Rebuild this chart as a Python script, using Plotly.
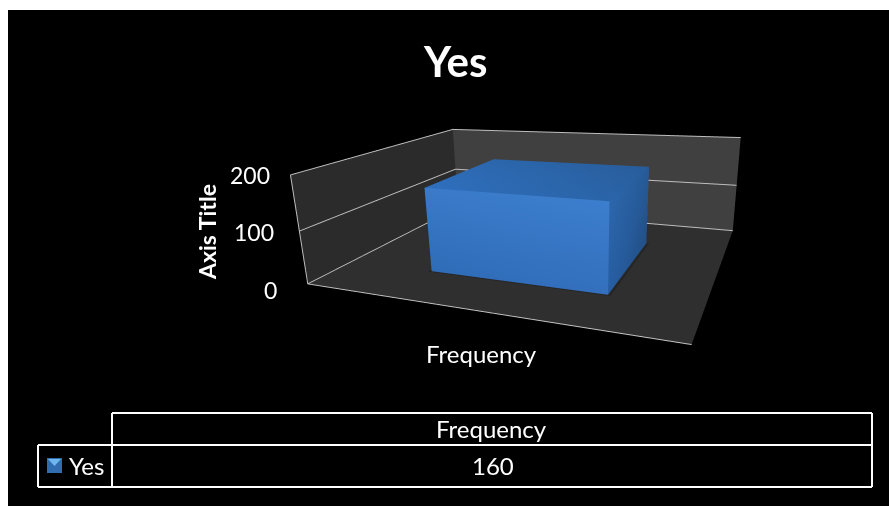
import plotly.graph_objects as go

# Chart data
series_name = "Yes"
categories = ["Frequency"]
frequency = [160]
value_ticks = [0, 100, 200]
chart_title = "Yes"
value_axis_title = "Axis Title"

W, H = 889, 506
FONT = "Lato"

# Column footprint inside the unit floor of the plot box
col_x = (0.269, 0.771)
col_y = (0.231, 0.738)
col_top = frequency[0]

faces = [
    # front: brightest through the middle, a little deeper along the bottom
    ([(col_x[0], col_y[0], 0), (col_x[1], col_y[0], 0), (col_x[1], col_y[0], col_top), (col_x[0], col_y[0], col_top)],
     ["#2f6cb8", "#336fbc", "#3c7ecd", "#3a7ac8"]),
    # right side
    ([(col_x[1], col_y[0], 0), (col_x[1], col_y[1], 0), (col_x[1], col_y[1], col_top), (col_x[1], col_y[0], col_top)],
     ["#275ea3", "#234f85", "#265a96", "#2c66ab"]),
    # top
    ([(col_x[0], col_y[0], col_top), (col_x[1], col_y[0], col_top), (col_x[1], col_y[1], col_top), (col_x[0], col_y[1], col_top)],
     ["#2f6fbd", "#2a64a8", "#285d9b", "#2b66ac"]),
    # left and back, out of sight from this camera
    ([(col_x[0], col_y[1], 0), (col_x[0], col_y[0], 0), (col_x[0], col_y[0], col_top), (col_x[0], col_y[1], col_top)],
     ["#2f6cb8"] * 4),
    ([(col_x[1], col_y[1], 0), (col_x[0], col_y[1], 0), (col_x[0], col_y[1], col_top), (col_x[1], col_y[1], col_top)],
     ["#2f6cb8"] * 4),
]

vx, vy, vz, vc, ti, tj, tk = [], [], [], [], [], [], []
for corners, colors in faces:
    n = len(vx)
    for (cx, cy, cz), c in zip(corners, colors):
        vx.append(cx)
        vy.append(cy)
        vz.append(cz)
        vc.append(c)
    ti += [n, n]
    tj += [n + 1, n + 2]
    tk += [n + 2, n + 3]

flat_light = dict(ambient=1, diffuse=0, specular=0, fresnel=0, roughness=1)
column = go.Mesh3d(
    x=vx, y=vy, z=vz, i=ti, j=tj, k=tk, vertexcolor=vc, name=series_name,
    flatshading=True, showscale=False, hoverinfo="skip", lighting=flat_light,
)

# Soft contact shadow on the floor around the column's foot
shadow_spread = 0.008
shadow = go.Mesh3d(
    x=[col_x[0] - shadow_spread, col_x[1] + shadow_spread, col_x[1] + shadow_spread, col_x[0] - shadow_spread],
    y=[col_y[0] - shadow_spread, col_y[0] - shadow_spread, col_y[1] + shadow_spread, col_y[1] + shadow_spread],
    z=[0.5, 0.5, 0.5, 0.5], i=[0, 0], j=[1, 2], k=[2, 3], color="#262626",
    flatshading=True, showscale=False, hoverinfo="skip", lighting=flat_light,
)

# Tick labels step outward along the leaning value axis
tick_offsets = {0: (-29, -6), 100: (-23, -1), 200: (-18, 0)}


def tick_note(v):
    return dict(x=0, y=0, z=v, text=str(v), showarrow=False, xanchor="right", yanchor="middle",
                xshift=tick_offsets[v][0], yshift=tick_offsets[v][1],
                font=dict(family=FONT, size=23, color="white"))


scene = dict(
    domain=dict(x=[0.1699, 1], y=[0, 1]),
    dragmode="orbit",
    aspectmode="manual",
    aspectratio=dict(x=1, y=0.821, z=0.295),
    camera=dict(
        eye=dict(x=0.645, y=-1.56, z=0.447),
        center=dict(x=-0.043, y=-0.04, z=-0.133),
        up=dict(x=0.036, y=0, z=1),
        projection=dict(type="perspective"),
    ),
    xaxis=dict(range=[0, 1], title=dict(text=""), tickvals=[], showgrid=False, zeroline=False,
               showbackground=True, backgroundcolor="#2b2b2b", showline=True, linecolor="#c4c4c4",
               linewidth=2, showspikes=False, ticks=""),
    yaxis=dict(range=[0, 1], title=dict(text=""), tickvals=[], showgrid=False, zeroline=False,
               showbackground=True, backgroundcolor="#404040", showline=False,
               showspikes=False, ticks=""),
    zaxis=dict(range=[0, 200], title=dict(text=""), tickvals=value_ticks, showticklabels=False,
               showgrid=True, gridcolor="#bdbdbd", gridwidth=2, zeroline=False,
               showbackground=True, backgroundcolor="#2f2f2f", showline=True, linecolor="#bdbdbd",
               linewidth=2, showspikes=False, ticks=""),
    annotations=[tick_note(v) for v in value_ticks] + [
        dict(x=0.5, y=0, z=0, text=categories[0], showarrow=False, yshift=-43, xshift=8,
             font=dict(family=FONT, size=24, color="white")),
    ],
)


def px(x):
    return x / W


def py(y):
    return 1 - y / H


def line_shape(x0, y0, x1, y1):
    return dict(type="line", xref="paper", yref="paper", x0=px(x0), y0=py(y0), x1=px(x1), y1=py(y1),
                line=dict(color="white", width=2))


def rect_shape(x0, y0, x1, y1, fill):
    return dict(type="rect", xref="paper", yref="paper", x0=px(x0), y0=py(y0), x1=px(x1), y1=py(y1),
                fillcolor=fill, line=dict(width=0))


def label(x, y, text, size, anchor="center", bold=False, angle=0):
    return dict(xref="paper", yref="paper", x=px(x), y=py(y), text=f"<b>{text}</b>" if bold else text,
                showarrow=False, xanchor=anchor, yanchor="middle", textangle=angle,
                font=dict(family=FONT, size=size, color="white"))


# Data table below the plot
table_left, key_right, table_right = 38, 112, 872
row_top, row_mid, row_bottom = 413, 445, 487
shapes = [
    rect_shape(0, 0, W, 10, "white"),
    rect_shape(0, 0, 8, H, "white"),
    line_shape(key_right, row_top, table_right, row_top),
    line_shape(table_left, row_mid, table_right, row_mid),
    line_shape(table_left, row_bottom, table_right, row_bottom),
    line_shape(table_left, row_mid, table_left, row_bottom),
    line_shape(key_right, row_top, key_right, row_bottom),
    line_shape(table_right, row_top, table_right, row_bottom),
    # Legend key
    rect_shape(47, 458, 62, 473, "#2f6cb0"),
    dict(type="path", xref="paper", yref="paper",
         path=f"M {px(48)} {py(459)} L {px(61)} {py(459)} L {px(54.5)} {py(466)} Z",
         fillcolor="#6fb6ee", line=dict(width=0)),
]

annotations = [
    label(455, 61, chart_title, 42, bold=True),
    label(207, 232, value_axis_title, 23, bold=True, angle=-90),
    label(492, 428, categories[0], 24),
    label(493, 465, str(frequency[0]), 24),
    label(66.5, 465, series_name, 24, anchor="left"),
]

fig = go.Figure([shadow, column])
fig.update_layout(
    width=W, height=H, margin=dict(l=0, r=0, t=0, b=0), paper_bgcolor="black", plot_bgcolor="black",
    showlegend=False, scene=scene, shapes=shapes, annotations=annotations,
)
fig.write_html("out.html")
